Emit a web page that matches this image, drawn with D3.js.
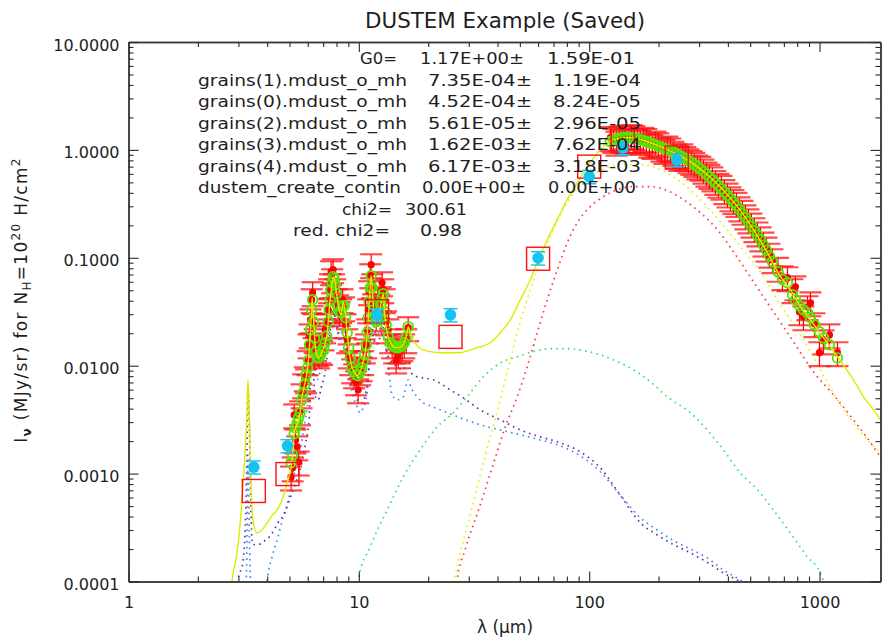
<!DOCTYPE html>
<html>
<head>
<meta charset="utf-8">
<script src="https://cdn.jsdelivr.net/npm/d3@7/dist/d3.min.js"></script>
<style>
  body { margin: 0; background: #fff; }
  svg text { font-family: "DejaVu Sans", "Liberation Sans", sans-serif; fill: #1e1e1e; }
</style>
</head>
<body>
<svg id="chart" width="882" height="638"></svg>
<script>
// ---- model curves: [lambda (um), I_nu (MJy/sr)] ----
const modelTotal = [[2.76,6.7e-5],[2.82,1.03e-4],[2.99,2.18e-4],[3.11,5.7e-4],[3.21,1.66e-3],[3.27,3.9e-3],[3.30,7.4e-3],[3.35,3.15e-3],[3.41,7.06e-4],[3.47,3.72e-4],[3.61,2.82e-4],[3.80,3.0e-4],[4.00,3.5e-4],[4.20,4.1e-4],[4.42,4.6e-4],[4.64,5.7e-4],[4.88,8.2e-4],[5.12,1.26e-3],[5.24,2.34e-3],[5.41,2.95e-3],[5.56,3.66e-3],[5.67,5.15e-3],[5.85,7.09e-3],[5.98,9.16e-3],[6.04,0.0113],[6.10,0.0150],[6.14,0.0185],[6.21,0.0278],[6.27,0.0427],[6.36,0.0266],[6.46,0.0156],[6.59,0.0124],[6.72,0.0118],[6.93,0.0135],[7.14,0.0163],[7.29,0.0202],[7.39,0.0278],[7.50,0.0409],[7.66,0.0575],[7.73,0.0668],[7.89,0.0587],[8.05,0.0427],[8.21,0.0330],[8.38,0.0297],[8.55,0.0392],[8.72,0.0316],[8.90,0.0202],[9.08,0.0135],[9.26,0.0104],[9.54,0.00878],[9.83,0.00806],[10.13,0.00878],[10.44,0.0109],[10.76,0.0156],[10.98,0.0266],[11.20,0.0528],[11.31,0.0682],[11.48,0.0455],[11.65,0.0297],[11.89,0.0255],[12.13,0.0278],[12.38,0.0344],[12.76,0.0465],[13.01,0.0266],[13.41,0.0185],[13.81,0.0160],[14.38,0.0147],[14.97,0.0147],[15.43,0.0153],[15.89,0.0174],[16.21,0.0206],[16.37,0.0230],[16.71,0.0202],[17.22,0.0174],[18.10,0.0150],[19.02,0.0140],[20.40,0.0135],[22.55,0.0132],[24.93,0.0132],[27.55,0.0132],[30.45,0.0140],[32.66,0.0147],[37.19,0.0163],[41.11,0.0202],[45.43,0.0266],[50.21,0.0409],[55.48,0.0626],[60.1,0.0960],[65.77,0.147],[72.7,0.226],[80.3,0.346],[88.8,0.497],[98.1,0.700],[111.7,1.006],[127.3,1.246],[150.9,1.30],[175.3,1.21],[203.7,1.073],[248.7,0.88],[303.9,0.665],[371.1,0.452],[439.9,0.298],[516.4,0.182],[593.9,0.1115],[676.2,0.0668],[747.4,0.0506],[826,0.0352],[913,0.0266],[979,0.0215],[1082,0.0163],[1196,0.0121],[1404,0.0074],[1551,0.00515],[1715,0.0039],[1876,0.00295]];

const pah0 = [[2.93,6.7e-5],[2.99,1.03e-4],[3.14,1.52e-4],[3.24,5.7e-4],[3.27,1.66e-3],[3.30,6.65e-3],[3.35,2.54e-3],[3.41,3.7e-4],[3.46,2.2e-4],[3.65,2.2e-4],[3.92,2.4e-4],[4.12,2.64e-4],[4.46,3.5e-4],[4.79,4.41e-4],[5.03,5.95e-4],[5.29,7.86e-4],[5.56,1.08e-3],[5.85,1.85e-3],[6.08,3.15e-3],[6.27,0.0193],[6.43,5.37e-3],[6.66,4.83e-3],[6.86,6.24e-3],[7.14,8.78e-3],[7.43,0.0174],[7.73,0.0316],[8.05,0.0215],[8.29,0.0167],[8.55,0.0189],[8.90,0.0118],[9.17,7.89e-3],[9.45,5.98e-3],[9.83,4.83e-3],[10.33,4.53e-3],[10.87,6.94e-3],[11.20,0.0174],[11.31,0.0316],[11.54,0.0193],[11.89,0.0156],[12.38,0.0185],[12.76,0.0225],[13.14,0.0140],[13.68,0.0113],[14.67,9.77e-3],[15.58,9.16e-3],[16.37,0.0113],[16.87,8.59e-3],[17.92,7.89e-3],[19.02,7.72e-3],[21.03,7.4e-3],[24.93,5.98e-3],[28.4,5.04e-3],[33.65,3.9e-3],[41.11,3.15e-3],[50.21,2.54e-3],[61.32,2.19e-3],[74.9,1.93e-3],[91.5,1.59e-3],[111.7,1.13e-3],[136.5,6.3e-4],[166.7,3.5e-4],[197.6,2.7e-4],[231.9,2.2e-4],[274.9,1.84e-4],[325.9,1.5e-4],[382.4,1.2e-4],[453.4,9.9e-5],[553.8,7.2e-5]];

const pah1 = [[3.22,6.7e-5],[3.27,2.4e-4],[3.30,1.49e-3],[3.35,2.4e-4],[3.41,6.7e-5],[3.65,2.3e-5],[3.92,6.7e-5],[4.00,1.03e-4],[4.20,1.69e-4],[4.46,2.6e-4],[4.69,3.96e-4],[4.88,5.12e-4],[5.08,7.4e-4],[5.29,1.08e-3],[5.56,1.66e-3],[5.85,3.15e-3],[6.02,4.83e-3],[6.14,8.78e-3],[6.27,0.023],[6.39,0.0118],[6.59,7.4e-3],[6.79,8.78e-3],[7.14,0.0126],[7.50,0.024],[7.73,0.0344],[7.97,0.0278],[8.29,0.0193],[8.55,0.0215],[8.81,0.0156],[9.17,6.94e-3],[9.45,5.15e-3],[9.83,4.16e-3],[10.13,3.66e-3],[10.44,4.07e-3],[10.87,5.61e-3],[11.20,0.0174],[11.31,0.0367],[11.54,0.0255],[11.89,0.0193],[12.25,0.0202],[12.76,0.0266],[13.14,0.0156],[13.54,8.23e-3],[13.95,5.37e-3],[14.67,4.83e-3],[15.58,5.15e-3],[16.37,7.4e-3],[16.87,6.24e-3],[17.92,5.15e-3],[19.02,4.53e-3],[20.40,4.25e-3],[22.55,3.9e-3],[27.55,3.29e-3],[33.65,2.83e-3],[41.11,2.54e-3],[50.21,2.29e-3],[61.32,2.05e-3],[74.9,1.81e-3],[91.5,1.46e-3],[111.7,1.04e-3],[136.5,6.3e-4],[166.7,3.9e-4],[197.6,3.0e-4],[231.9,2.4e-4],[274.9,2.0e-4],[325.9,1.65e-4],[382.4,1.28e-4],[453.4,1.03e-4],[553.8,7.5e-5]];

const vsg = [[9.73,6.7e-5],[9.93,1.03e-4],[11.2,2.1e-4],[13.27,4.6e-4],[15.58,9.3e-4],[18.47,1.66e-3],[21.88,2.71e-3],[25.7,3.66e-3],[29.5,5.15e-3],[34.7,7.89e-3],[41.11,0.0106],[48.7,0.0121],[57.2,0.0135],[67.77,0.0144],[80.3,0.0144],[94.3,0.0138],[111.7,0.0126],[132.5,0.0109],[155.5,0.00916],[184.3,0.00709],[218.4,0.00515],[274.9,0.00366],[325.9,0.00254],[382.4,0.00166],[453.4,0.00101],[537.4,7.1e-4],[630.5,4.6e-4],[747.4,2.8e-4],[886,1.69e-4],[1009,1.2e-4],[1072,8.3e-5]];

const bigGrains1 = [[24.93,6.7e-5],[27.0,1.52e-4],[30.45,4.14e-4],[35.4,1.49e-3],[41.11,4.83e-3],[45.43,0.0113],[50.21,0.0255],[55.48,0.0506],[61.32,0.092],[67.77,0.157],[74.9,0.251],[82.8,0.361],[96.2,0.519],[111.7,0.643],[136.5,0.731],[166.7,0.731],[203.7,0.657],[248.7,0.508],[303.9,0.346],[371.1,0.216],[453.4,0.127],[553.8,0.0743],[676.2,0.0367],[826,0.0193],[1009,0.00916],[1233,0.00434],[1506,0.00244],[1876,0.00149]];

const bigGrains2 = [[26.2,6.7e-5],[26.7,1.03e-4],[28.9,1.96e-4],[33.65,5.12e-4],[39.1,1.4e-3],[43.2,2.71e-3],[48.7,5.15e-3],[53.8,9.77e-3],[59.5,0.0202],[65.77,0.0409],[72.7,0.0776],[80.3,0.138],[88.8,0.212],[101.1,0.298],[115.2,0.369],[132.5,0.428],[155.5,0.457],[184.3,0.457],[218.4,0.419],[256.3,0.346],[303.9,0.262],[360.2,0.182],[422.7,0.114],[516.4,0.06],[630.5,0.0316],[770.2,0.0167],[941,0.00878],[1149,0.00537],[1404,0.00315],[1715,0.00177],[1876,0.00134]];

// ---- spectroscopic data (red) with model at the data points (green) ----
const irsLam = [5.08,5.16,5.24,5.31,5.40,5.48,5.56,5.64,5.73,5.82,5.90,5.99,6.05,6.11,6.17,6.24,6.30,6.36,6.43,6.52,6.62,6.72,6.82,6.93,7.03,7.14,7.25,7.36,7.43,7.50,7.58,7.66,7.73,7.81,7.89,8.01,8.13,8.25,8.38,8.50,8.63,8.76,8.90,9.03,9.17,9.35,9.54,9.73,9.93,10.13,10.28,10.44,10.60,10.76,10.87,10.98,11.08,11.20,11.31,11.42,11.54,11.71,11.89,12.07,12.25,12.44,12.62,12.76,12.95,13.14,13.41,13.68,13.95,14.23,14.52,14.82,15.11,15.43,15.74,16.05,16.37];
const irsObs = [0.00093,0.00113,0.00350,0.00205,0.00177,0.00128,0.00374,0.00537,0.00665,0.00772,0.00740,0.0109,0.0156,0.0193,0.0266,0.0409,0.0475,0.0240,0.0174,0.0147,0.0132,0.0126,0.0140,0.0135,0.0185,0.0215,0.0240,0.0330,0.0506,0.0563,0.0743,0.0626,0.0776,0.0563,0.0506,0.0409,0.0359,0.0310,0.0330,0.0409,0.0344,0.0240,0.0174,0.0126,0.0109,0.00916,0.00823,0.00709,0.00598,0.00878,0.00956,0.0109,0.0140,0.0156,0.0215,0.0330,0.0485,0.0697,0.0863,0.0563,0.0367,0.0330,0.0278,0.0409,0.0367,0.0427,0.0587,0.0506,0.0409,0.0255,0.0215,0.0174,0.0156,0.0140,0.0113,0.0126,0.0140,0.0147,0.0156,0.0174,0.0225];
const irsModel = [0.00126,0.00149,0.00234,0.00265,0.00295,0.00329,0.00366,0.00483,0.00561,0.00665,0.00823,0.00956,0.0113,0.0156,0.0215,0.0330,0.0409,0.0255,0.0181,0.0135,0.0121,0.0118,0.0126,0.0135,0.0147,0.0163,0.0189,0.0255,0.0330,0.0409,0.0506,0.0587,0.0668,0.0640,0.0563,0.0465,0.0359,0.0316,0.0310,0.0359,0.0359,0.0278,0.0202,0.0147,0.0118,0.00956,0.00878,0.00823,0.00806,0.00878,0.00956,0.0109,0.0126,0.0156,0.0202,0.0278,0.0392,0.0528,0.0682,0.0528,0.0367,0.0290,0.0255,0.0266,0.0310,0.0367,0.0427,0.0465,0.0316,0.0240,0.0185,0.0163,0.0156,0.0150,0.0147,0.0147,0.0150,0.0153,0.0163,0.0185,0.0230];

const firLam = [123.5,127.3,131.2,135.2,139.3,143.5,147.9,152.4,157.0,161.8,166.7,171.8,177.1,182.5,188.0,193.7,199.6,205.7,212.0,218.5,225.1,232.0,239.0,246.3,253.8,261.5,269.5,277.7,286.2,294.9,303.9,313.2,322.7,332.5,342.6,353.0,363.8,374.9,386.3,398.1,410.2,422.7,435.5,448.8,462.5,476.6,491.1,506.0,521.4,537.4,553.8,570.7,588.0,605.9,624.4,660,690,725.6,762.6,785.8,817.9,851,886,913,950,999,1040,1104,1196];
const firObs = [1.30,1.25,1.18,1.31,1.34,1.24,1.25,1.36,1.33,1.24,1.20,1.28,1.25,1.13,1.10,1.18,1.14,1.04,0.99,1.06,1.02,0.95,0.90,0.85,0.90,0.85,0.81,0.78,0.75,0.71,0.69,0.65,0.61,0.58,0.55,0.51,0.48,0.46,0.42,0.39,0.36,0.34,0.32,0.29,0.27,0.245,0.225,0.205,0.186,0.17,0.153,0.137,0.123,0.108,0.096,0.08,0.0668,0.0654,0.0506,0.0539,0.0316,0.0284,0.0352,0.0383,0.0245,0.0132,0.0170,0.0193,0.0132];
const firModel = [1.194,1.227,1.260,1.28,1.300,1.30,1.300,1.295,1.287,1.27,1.246,1.22,1.194,1.17,1.144,1.115,1.085,1.056,1.028,1.006,0.985,0.954,0.924,0.89,0.858,0.826,0.796,0.763,0.731,0.697,0.664,0.629,0.596,0.562,0.530,0.497,0.467,0.435,0.406,0.379,0.353,0.328,0.304,0.280,0.257,0.236,0.216,0.196,0.178,0.162,0.147,0.131,0.1176,0.104,0.0920,0.0745,0.063,0.0587,0.0455,0.0409,0.0359,0.0330,0.0310,0.0278,0.0240,0.0206,0.0181,0.0156,0.0118];
const specErrFrac = 0.25;

// ---- photometry (cyan) and model photometry (red squares) ----
const photLam = [3.5, 4.9, 12, 25, 60, 100, 140, 240];
const photObs = [0.00115, 0.00181, 0.0296, 0.0296, 0.0996, 0.565, 1.04, 0.81];
const photModel = [6.9e-4, 9.9e-4, 0.032, 0.0185, 0.098, 0.70, 1.2, 0.85];
const photErrFrac = 0.14;

// ---- fit results ----
const fitNames = ["G0=", "grains(1).mdust_o_mh", "grains(0).mdust_o_mh", "grains(2).mdust_o_mh", "grains(3).mdust_o_mh", "grains(4).mdust_o_mh", "dustem_create_contin"];
const fitValues = ["1.17E+00", "7.35E-04", "4.52E-04", "5.61E-05", "1.62E-03", "6.17E-03", "0.00E+00"];
const fitErrors = ["1.59E-01", "1.19E-04", "8.24E-05", "2.96E-05", "7.62E-04", "3.18E-03", "0.00E+00"];
const chi2 = "300.61", redChi2 = "0.98";

const xMajor = [1, 10, 100, 1000];
const yMajor = [1e-4, 1e-3, 1e-2, 1e-1, 1, 10];

const svg = d3.select("#chart");
const pLeft = 128.5, pRight = 880.5, pTop = 42, pBottom = 581.5;

const x = d3.scaleLog().domain([1, 1839]).range([pLeft, pRight]);
const y = d3.scaleLog().domain([1e-4, 10]).range([pBottom, pTop]);

svg.append("defs").append("clipPath").attr("id", "plotclip")
    .append("rect").attr("x", pLeft).attr("y", pTop)
    .attr("width", pRight - pLeft).attr("height", pBottom - pTop);

const plot = svg.append("g").attr("clip-path", "url(#plotclip)");
const line = d3.line().x(d => x(d[0])).y(d => y(d[1])).curve(d3.curveMonotoneX);

// dotted components
const comps = [
    {d: vsg, c: "#33e36a"},
    {d: pah1, c: "#3b8cf5"},
    {d: pah0, c: "#6a2fa8"},
    {d: bigGrains2, c: "#ff3a3a"},
    {d: bigGrains1, c: "#e3ef00"}
];
comps.forEach(k => {
    plot.append("path").datum(k.d)
        .attr("d", line).attr("fill", "none")
        .attr("stroke", k.c).attr("stroke-width", 1.7)
        .attr("stroke-dasharray", "1.6,4.2");
});

// spectrum error bars + points
const spec = irsLam.map((l, i) => ({l, v: irsObs[i], m: irsModel[i]}))
    .concat(firLam.map((l, i) => ({l, v: firObs[i], m: firModel[i]})));

const eb = plot.append("g");
spec.forEach(p => {
    const cx = x(p.l), y1 = y(p.v * (1 + specErrFrac)), y2 = y(p.v * (1 - specErrFrac));
    eb.append("line").attr("x1", cx).attr("x2", cx).attr("y1", y1).attr("y2", y2)
        .attr("stroke", "#ff0000").attr("stroke-width", 1.2);
    [y1, y2].forEach(yy => eb.append("line")
        .attr("x1", cx - 11).attr("x2", cx + 11).attr("y1", yy).attr("y2", yy)
        .attr("stroke", "#ff1010").attr("stroke-opacity", 0.75).attr("stroke-width", 2.2));
});
plot.append("g").selectAll("circle").data(spec).join("circle")
    .attr("cx", d => x(d.l)).attr("cy", d => y(d.v)).attr("r", 3.6)
    .attr("fill", "#ff0000");
plot.append("g").selectAll("circle").data(spec).join("circle")
    .attr("cx", d => x(d.l)).attr("cy", d => y(d.m)).attr("r", 4.8)
    .attr("fill", "none").attr("stroke", "#55e600").attr("stroke-width", 1.9);

// total model
plot.append("path").datum(modelTotal).attr("d", line)
    .attr("fill", "none").attr("stroke", "#dcec00").attr("stroke-width", 1.4);

// model photometry squares
const phot = photLam.map((l, i) => ({l, v: photObs[i], m: photModel[i]}));
plot.append("g").selectAll("rect").data(phot).join("rect")
    .attr("x", d => x(d.l) - 11.5).attr("y", d => y(d.m) - 11.5)
    .attr("width", 23).attr("height", 23)
    .attr("fill", "none").attr("stroke", "#ff1010").attr("stroke-width", 1.4);

// photometry with error bars
const pg = plot.append("g");
phot.forEach(p => {
    const cx = x(p.l), y1 = y(p.v * (1 + photErrFrac)), y2 = y(p.v * (1 - photErrFrac));
    pg.append("line").attr("x1", cx).attr("x2", cx).attr("y1", y1).attr("y2", y2)
        .attr("stroke", "#16c3f0").attr("stroke-width", 1.5);
    [y1, y2].forEach(yy => pg.append("line")
        .attr("x1", cx - 7).attr("x2", cx + 7).attr("y1", yy).attr("y2", yy)
        .attr("stroke", "#16c3f0").attr("stroke-width", 1.5));
    pg.append("circle").attr("cx", cx).attr("cy", y(p.v)).attr("r", 5.8).attr("fill", "#16c3f0");
});

// ---- axes (IDL-style box, inward ticks) ----
const xMinor = [];
for (let dec = 1; dec <= 1000; dec *= 10)
    for (let k = 2; k <= 9; k++) if (k * dec < 1839) xMinor.push(k * dec);
const yMinor = [];
for (let dec = 1e-4; dec < 5; dec *= 10)
    for (let k = 2; k <= 9; k++) yMinor.push(k * dec);

function styleAxis(g) {
    g.select(".domain").attr("stroke", "#3a3a3a").attr("stroke-width", 1.5);
    g.selectAll(".tick line").attr("stroke", "#2a2a2a").attr("stroke-width", 1.1);
}

const axB = svg.append("g").attr("transform", `translate(0,${pBottom})`)
    .call(d3.axisBottom(x).tickValues(xMajor).tickSize(-10).tickSizeOuter(0)
        .tickPadding(15).tickFormat(d3.format("d")));
axB.call(styleAxis);
axB.selectAll("text").attr("font-size", 16).attr("fill", "#1e1e1e");
svg.append("g").attr("transform", `translate(0,${pBottom})`)
    .call(d3.axisBottom(x).tickValues(xMinor).tickSize(-5).tickSizeOuter(0).tickFormat(""))
    .call(styleAxis);

svg.append("g").attr("transform", `translate(0,${pTop})`)
    .call(d3.axisTop(x).tickValues(xMajor).tickSize(-10).tickSizeOuter(0).tickFormat(""))
    .call(styleAxis);
svg.append("g").attr("transform", `translate(0,${pTop})`)
    .call(d3.axisTop(x).tickValues(xMinor).tickSize(-5).tickSizeOuter(0).tickFormat(""))
    .call(styleAxis);

const axL = svg.append("g").attr("transform", `translate(${pLeft},0)`)
    .call(d3.axisLeft(y).tickValues(yMajor).tickSize(-10).tickSizeOuter(0)
        .tickPadding(9).tickFormat(d3.format(".4f")));
axL.call(styleAxis);
axL.selectAll("text").attr("font-size", 16).attr("dy", "0.5em").attr("fill", "#1e1e1e");
svg.append("g").attr("transform", `translate(${pLeft},0)`)
    .call(d3.axisLeft(y).tickValues(yMinor).tickSize(-5).tickSizeOuter(0).tickFormat(""))
    .call(styleAxis);

svg.append("g").attr("transform", `translate(${pRight},0)`)
    .call(d3.axisRight(y).tickValues(yMajor).tickSize(-10).tickSizeOuter(0).tickFormat(""))
    .call(styleAxis);
svg.append("g").attr("transform", `translate(${pRight},0)`)
    .call(d3.axisRight(y).tickValues(yMinor).tickSize(-5).tickSizeOuter(0).tickFormat(""))
    .call(styleAxis);

// ---- titles ----
svg.append("text").attr("x", 505).attr("y", 28).attr("text-anchor", "middle")
    .attr("font-size", 21).attr("textLength", 280).attr("lengthAdjust", "spacingAndGlyphs")
    .text("DUSTEM Example (Saved)");

svg.append("text").attr("x", 505).attr("y", 633).attr("text-anchor", "middle")
    .attr("font-size", 17).text("\u03bb (\u03bcm)");

const yl = svg.append("text").attr("transform", "translate(27,300) rotate(-90)")
    .attr("text-anchor", "middle").attr("font-size", 17).attr("letter-spacing", 1.3);
yl.append("tspan").text("I");
yl.append("tspan").attr("font-size", 12).attr("dy", 4).attr("font-weight", "bold").text("\u03bd");
yl.append("tspan").attr("dy", -4).text(" (MJy/sr)  for  N");
yl.append("tspan").attr("font-size", 12).attr("dy", 4).text("H");
yl.append("tspan").attr("dy", -4).text("=10");
yl.append("tspan").attr("font-size", 12).attr("dy", -7).text("20");
yl.append("tspan").attr("dy", 7).text(" H/cm");
yl.append("tspan").attr("font-size", 12).attr("dy", -7).text("2");

// ---- fit results text ----
const ann = svg.append("g").attr("font-size", 16.5);
const rowY = [64, 85.5, 107, 128.5, 150, 171.5, 193];
fitNames.forEach((n, i) => {
    const nameX = i === 0 ? 360 : 198, nameW = i === 0 ? 37 : (i === 6 ? 203 : 209);
    const valX = i === 0 ? 420 : (i === 6 ? 422 : 428);
    const errX = i === 0 ? 547 : (i === 6 ? 548 : 553);
    ann.append("text").attr("x", nameX).attr("y", rowY[i])
        .attr("textLength", nameW).attr("lengthAdjust", "spacingAndGlyphs").text(n);
    ann.append("text").attr("x", valX).attr("y", rowY[i])
        .attr("textLength", 104).attr("lengthAdjust", "spacingAndGlyphs").text(fitValues[i] + "\u00b1");
    ann.append("text").attr("x", errX).attr("y", rowY[i])
        .attr("textLength", 88).attr("lengthAdjust", "spacingAndGlyphs").text(fitErrors[i]);
});
ann.append("text").attr("x", 342).attr("y", 215).attr("textLength", 50)
    .attr("lengthAdjust", "spacingAndGlyphs").text("chi2=");
ann.append("text").attr("x", 405).attr("y", 215).attr("textLength", 62)
    .attr("lengthAdjust", "spacingAndGlyphs").text(chi2);
ann.append("text").attr("x", 293).attr("y", 236).attr("textLength", 97)
    .attr("lengthAdjust", "spacingAndGlyphs").text("red. chi2=");
ann.append("text").attr("x", 420).attr("y", 236).attr("textLength", 42)
    .attr("lengthAdjust", "spacingAndGlyphs").text(redChi2);
</script>
</body>
</html>
